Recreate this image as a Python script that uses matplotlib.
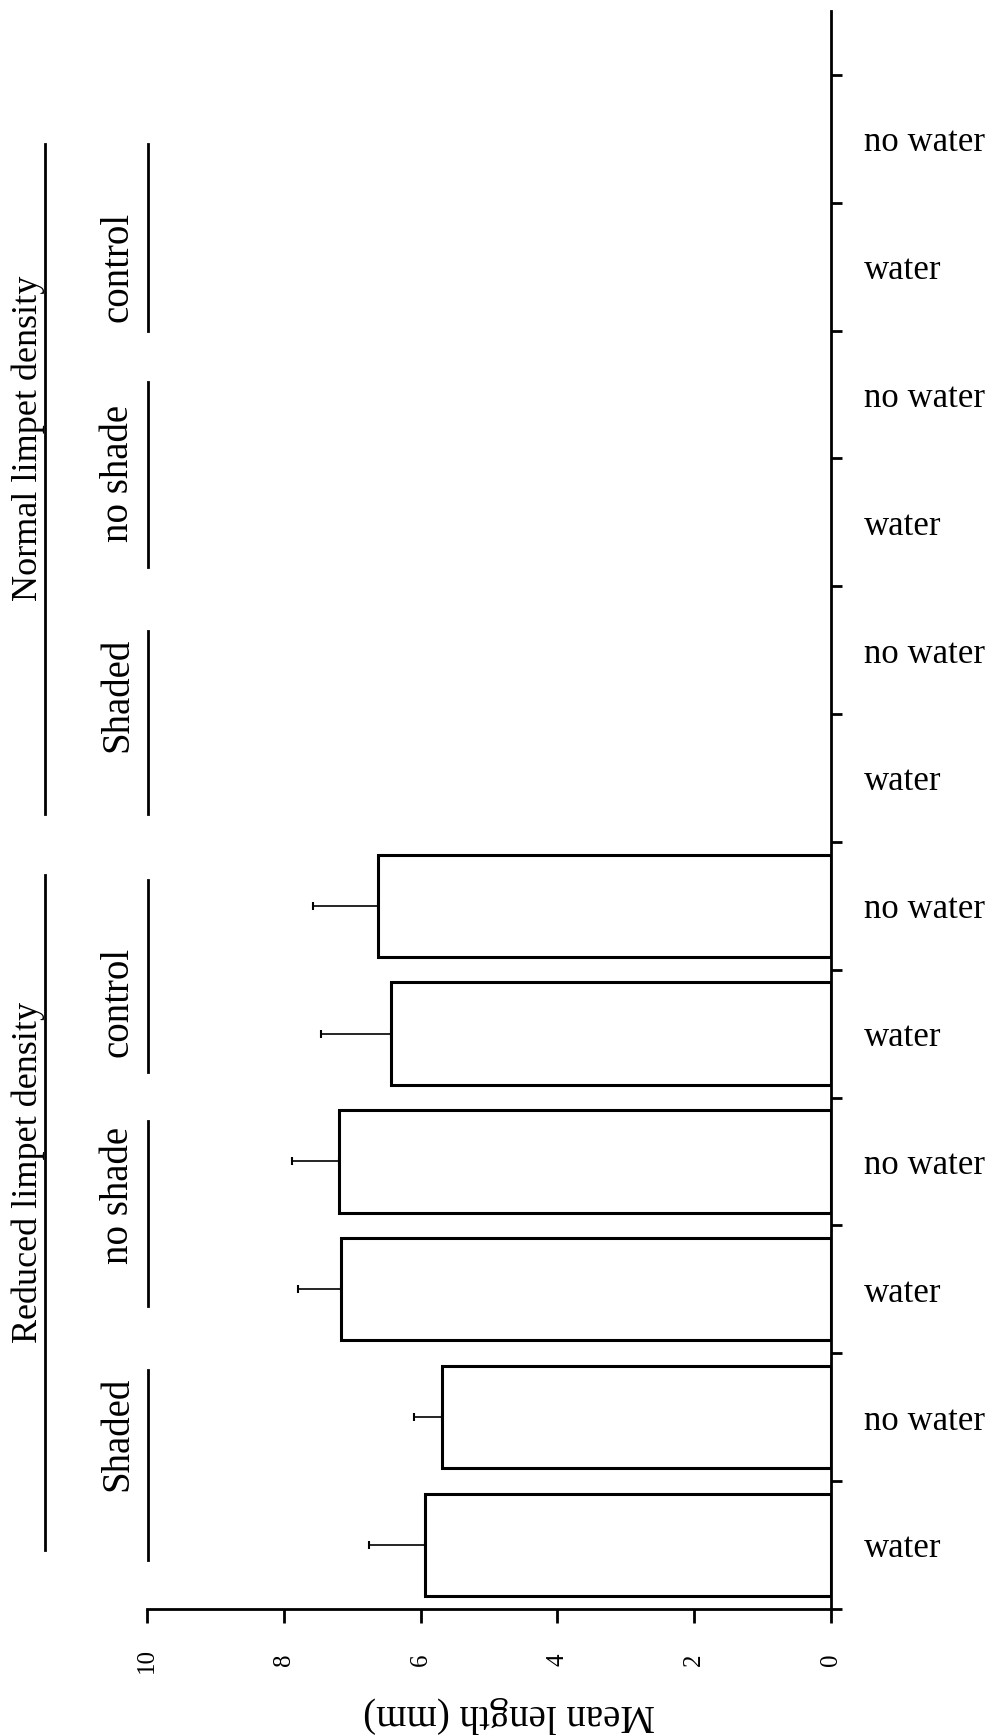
import matplotlib
matplotlib.use("Agg")
import matplotlib.pyplot as plt
import matplotlib.transforms as mtransforms
import numpy as np

plt.rcParams['font.family'] = ['Liberation Serif', 'DejaVu Serif']

# categories from bottom to top of the (rotated) chart
conditions = ["water", "no water"] * 6
# bars exist only for the reduced density treatments (bottom six rows)
mean_length = [5.93, 5.69, 7.17, 7.20, 6.44, 6.63]
std_err = [0.82, 0.41, 0.63, 0.68, 1.02, 0.94]
treatments = ["Shaded", "no shade", "control"] * 2
densities = ["Reduced limpet density", "Normal limpet density"]
x_ticks = [0, 2, 4, 6, 8, 10]

# where the hand-placed labels and rules sit (in row units)
treat_label_y = [0.87, 2.73, 4.25, 6.65, 8.38, 10.0]
treat_rule_span = [(-0.12, 1.37), (1.87, 3.32), (3.70, 5.20),
                   (5.72, 7.15), (7.65, 9.10), (9.50, 10.96)]
dens_label_y = [2.91, 8.66]
dens_rule_span = [(-0.04, 5.24), (5.72, 10.96)]

fig = plt.figure(figsize=(10.01, 17.36), dpi=100)
ax = fig.add_axes([0.147, 0.0733, 0.683, 0.9203])

pos = np.arange(len(mean_length))
ax.barh(pos, mean_length, height=0.8, color='white', edgecolor='black',
        linewidth=2.2, zorder=2)
ax.errorbar(mean_length, pos, xerr=[np.zeros(len(std_err)), std_err],
            fmt='none', ecolor='black', elinewidth=1.2, capsize=3,
            capthick=1.5, zorder=1)

ax.set_xlim(10, 0)
ax.set_ylim(-0.5, 12.0)

for s in ['top', 'left']:
    ax.spines[s].set_visible(False)
for s in ['right', 'bottom']:
    ax.spines[s].set_linewidth(2)

# category axis on the right
ax.yaxis.tick_right()
ax.set_yticks(np.arange(len(conditions)))
ax.set_yticklabels(conditions, fontsize=25)
ax.set_yticks(np.arange(-0.5, len(conditions), 1.0), minor=True)
ax.tick_params(axis='y', which='major', length=0, pad=24)
ax.tick_params(axis='y', which='minor', length=8, width=2, direction='out')

# value axis along the bottom
ax.set_xticks(x_ticks)
ax.set_xticklabels([str(v) for v in x_ticks], fontsize=18)
plt.setp(ax.get_xticklabels(), rotation=90, va='center', ha='center')
ax.tick_params(axis='x', length=10, width=2, direction='out', pad=27)

ax.set_xlabel("Mean length (mm)", fontsize=28, rotation=180, va='center')
ax.xaxis.set_label_coords(0.53, -0.066)

blend = mtransforms.blended_transform_factory(fig.transFigure, ax.transData)

for name, y in zip(treatments, treat_label_y):
    ax.text(0.118, y, name, transform=blend, rotation=90, fontsize=28,
            ha='center', va='center')
for lo, hi in treat_rule_span:
    ax.plot([0.148, 0.148], [lo, hi], transform=blend, color='black',
            lw=2, clip_on=False)

for name, y in zip(densities, dens_label_y):
    ax.text(0.028, y, name, transform=blend, rotation=90, fontsize=26,
            ha='center', va='center')
for lo, hi in dens_rule_span:
    ax.plot([0.045, 0.045], [lo, hi], transform=blend, color='black',
            lw=2, clip_on=False)

fig.savefig("out.png", dpi=100)
